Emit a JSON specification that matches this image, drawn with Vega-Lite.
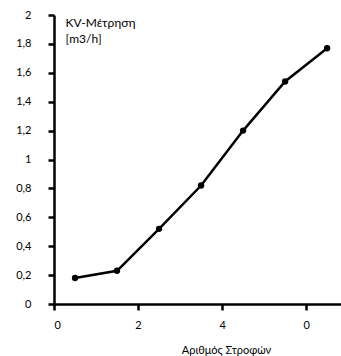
{
  "$schema": "https://vega.github.io/schema/vega-lite/v6.json",
  "autosize": "none",
  "padding": {"left": 54, "top": 15, "right": 0, "bottom": 52},
  "width": 287,
  "height": 289,
  "background": "white",
  "config": {
    "view": {"stroke": null},
    "font": "Lato",
    "axis": {
      "grid": false,
      "domainColor": "black",
      "domainWidth": 2.5,
      "tickColor": "black",
      "tickWidth": 2.5,
      "tickSize": 6,
      "labelColor": "black",
      "labelFont": "Lato",
      "labelFontSize": 11,
      "titleFont": "Lato",
      "titleFontSize": 11,
      "titleFontWeight": "normal",
      "titleColor": "black"
    }
  },
  "data": {
    "values": [
      {"n": 0.5, "kv": 0.18},
      {"n": 1.5, "kv": 0.23},
      {"n": 2.5, "kv": 0.52},
      {"n": 3.5, "kv": 0.82},
      {"n": 4.5, "kv": 1.2},
      {"n": 5.5, "kv": 1.54},
      {"n": 6.5, "kv": 1.77}
    ]
  },
  "encoding": {
    "x": {
      "field": "n",
      "type": "quantitative",
      "scale": {"domain": [0, 6.83], "nice": false, "zero": false},
      "axis": {
        "values": [0, 2, 4, 6],
        "labelExpr": "datum.value == 6 ? '0' : datum.label",
        "labelPadding": 9,
        "title": "Αριθμός Στροφών",
        "titleX": 172,
        "titleY": 46,
        "titleAlign": "center",
        "titleBaseline": "middle"
      }
    },
    "y": {
      "field": "kv",
      "type": "quantitative",
      "scale": {"domain": [0, 2], "nice": false},
      "axis": {
        "values": [0, 0.2, 0.4, 0.6, 0.8, 1, 1.2, 1.4, 1.6, 1.8, 2],
        "labelExpr": "replace(format(datum.value, '.1~f'), '.', ',')",
        "labelPadding": 17,
        "title": ["KV-Μέτρηση", "[m3/h]"],
        "titleAngle": 0,
        "titleAlign": "left",
        "titleBaseline": "middle",
        "titleX": 11,
        "titleY": 7,
        "titleLineHeight": 16,
        "titleFontSize": 12
      }
    }
  },
  "layer": [
    {"mark": {"type": "line", "color": "black", "strokeWidth": 2.5}},
    {"mark": {"type": "point", "filled": true, "color": "black", "opacity": 1, "size": 40}}
  ]
}
